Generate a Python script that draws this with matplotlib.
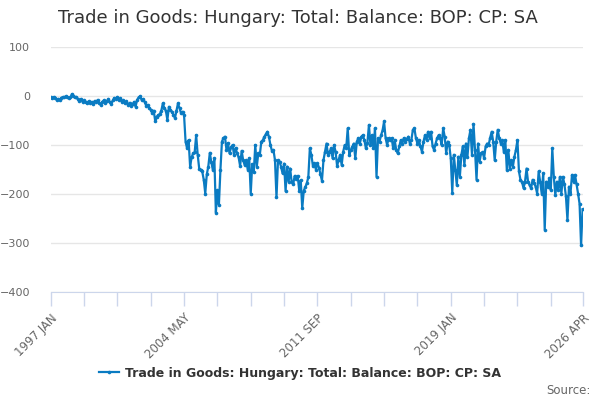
import matplotlib
matplotlib.use('agg')
import matplotlib.pyplot as plt

# monthly values, 1997 JAN .. 2026 APR
y1997 = [-3, -5, -2, -4, -8, -6, -9, -4, -2, -3, -1, -2]
y1998 = [-4, -3, 4, 1, -3, -2, -7, -10, -6, -12, -9, -13]
y1999 = [-15, -11, -14, -12, -17, -10, -13, -8, -15, -18, -12, -9]
y2000 = [-14, -11, -6, -13, -16, -9, -4, -6, -2, -8, -5, -12]
y2001 = [-9, -15, -11, -18, -14, -20, -17, -12, -22, -8, -3, -1]
y2002 = [-8, -6, -12, -20, -18, -24, -28, -35, -30, -52, -42, -39]
y2003 = [-37, -30, -15, -25, -30, -49, -22, -28, -32, -38, -45, -30]
y2004 = [-15, -25, -35, -32, -39, -93, -107, -90, -144, -125, -117, -115]
y2005 = [-80, -120, -148, -150, -154, -171, -199, -160, -144, -116, -135, -151]
y2006 = [-127, -238, -192, -222, -151, -93, -86, -83, -110, -96, -117, -105]
y2007 = [-100, -120, -106, -117, -125, -143, -112, -131, -141, -131, -150, -127]
y2008 = [-199, -139, -156, -100, -144, -117, -120, -93, -90, -83, -78, -73]
y2009 = [-83, -100, -112, -110, -131, -207, -131, -134, -144, -158, -138, -194]
y2010 = [-144, -175, -148, -175, -180, -163, -170, -163, -193, -172, -229, -193]
y2011 = [-186, -178, -166, -107, -120, -142, -137, -150, -137, -146, -160, -173]
y2012 = [-131, -114, -97, -120, -114, -107, -127, -100, -114, -143, -130, -120]
y2013 = [-141, -114, -100, -107, -66, -120, -110, -104, -97, -127, -93, -86]
y2014 = [-97, -83, -80, -90, -107, -95, -59, -100, -80, -107, -66, -165]
y2015 = [-86, -93, -80, -70, -52, -86, -100, -86, -90, -86, -107, -90]
y2016 = [-110, -117, -103, -90, -97, -86, -93, -88, -83, -97, -90, -69]
y2017 = [-66, -86, -97, -90, -103, -114, -93, -80, -90, -73, -86, -73]
y2018 = [-103, -110, -97, -86, -80, -85, -100, -66, -83, -117, -93, -100]
y2019 = [-127, -197, -120, -151, -182, -124, -165, -120, -103, -141, -97, -124]
y2020 = [-86, -69, -120, -57, -110, -171, -97, -134, -117, -114, -127, -103]
y2021 = [-97, -100, -85, -73, -93, -131, -93, -69, -86, -97, -90, -114]
y2022 = [-90, -151, -110, -148, -131, -144, -124, -110, -90, -154, -171, -175]
y2023 = [-188, -175, -148, -175, -182, -188, -171, -178, -185, -199, -154, -175]
y2024 = [-199, -158, -273, -175, -185, -168, -192, -107, -165, -202, -175, -192]
y2025 = [-165, -199, -165, -180, -205, -253, -185, -199, -161, -175, -161, -180]
y2026 = [-199, -220, -305, -231]

tick_labels = ['1997 JAN', '2004 MAY', '2011 SEP', '2019 JAN', '2026 APR']
title = 'Trade in Goods: Hungary: Total: Balance: BOP: CP: SA'

values = (y1997 + y1998 + y1999 + y2000 + y2001 + y2002 + y2003 + y2004 + y2005
          + y2006 + y2007 + y2008 + y2009 + y2010 + y2011 + y2012 + y2013 + y2014
          + y2015 + y2016 + y2017 + y2018 + y2019 + y2020 + y2021 + y2022 + y2023
          + y2024 + y2025 + y2026)
months = list(range(len(values)))
last = months[-1]

blue = '#0a7bc2'
fig = plt.figure(figsize=(6, 4), dpi=100)
ax = fig.add_axes([0.0845, 0.27, 0.8865, 0.6125])

ax.plot(months, values, color=blue, lw=1.6, marker='o', ms=2.6, mew=0, label=title)

ax.set_xlim(0, last)
ax.set_ylim(-400, 100)
ax.set_yticks(range(-400, 101, 100))
ax.grid(axis='y', color='#e6e6e6', lw=1)
ax.set_axisbelow(True)
for side in ['top', 'right', 'left']:
    ax.spines[side].set_visible(False)
ax.spines['bottom'].set_color('#ccd6eb')
ax.tick_params(axis='y', length=0, pad=15, labelsize=8, labelcolor='#666666')

# labels every 88 months, small ticks every 22, plus the last month
ax.set_xticks([0, 88, 176, 264, last])
ax.set_xticklabels(tick_labels, rotation=45, ha='right', rotation_mode='anchor')
ax.set_xticks(list(range(0, last, 22)) + [last], minor=True)
ax.tick_params(axis='x', which='both', length=10, color='#ccd6eb', width=1)
ax.tick_params(axis='x', which='major', labelsize=8.5, labelcolor='#666666', pad=4)

fig.text(0.497, 0.955, title, ha='center', va='center', fontsize=13, color='#333333')
leg = fig.legend(loc='center', bbox_to_anchor=(0.5, 0.067), frameon=False,
                 prop={'size': 9, 'weight': 'bold'}, handlelength=1.6, handletextpad=0.5)
for t in leg.get_texts():
    t.set_color('#333333')
fig.text(0.985, 0.025, 'Source:', ha='right', va='center', fontsize=8.5, color='#666666')

plt.savefig('out.png', dpi=100)
